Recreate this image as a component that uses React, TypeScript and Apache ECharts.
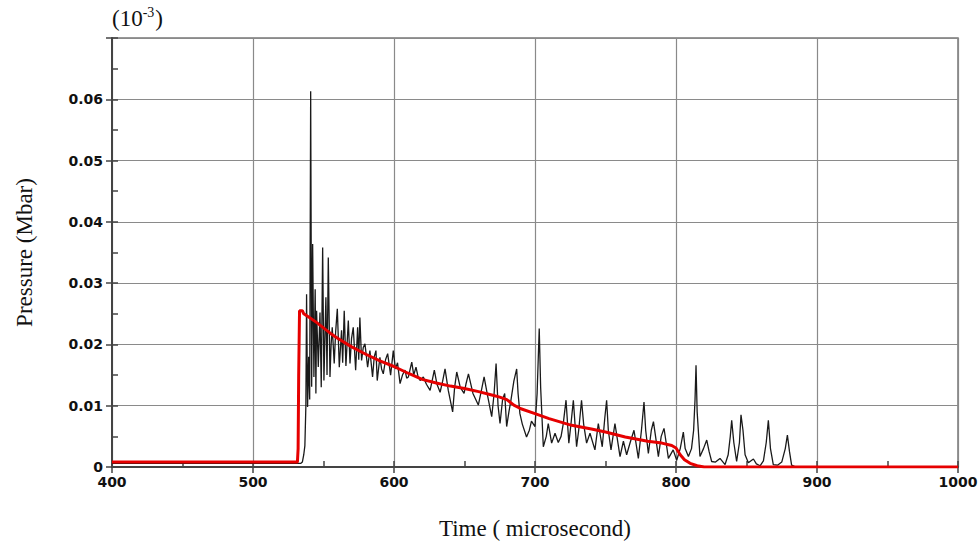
import React, { useEffect, useRef } from "react";
import * as echarts from "echarts";

// Red curve (smooth pressure)
const redTime = [400, 531.5, 532, 532.4, 533, 535, 536, 540, 545, 550, 555, 560, 570, 580, 590, 600, 610, 620, 630, 640, 650, 660, 670, 675, 680, 685, 690, 700, 710, 726, 740, 750, 764, 780, 790, 797, 800, 803, 806, 810, 815, 820, 1000];
const redPressure = [0.0008, 0.0008, 0.003, 0.015, 0.0255, 0.0255, 0.025, 0.0244, 0.0236, 0.0227, 0.0218, 0.021, 0.0196, 0.0184, 0.0173, 0.0164, 0.0153, 0.0143, 0.0137, 0.0132, 0.0128, 0.0123, 0.0117, 0.0114, 0.011, 0.0101, 0.0095, 0.0087, 0.0079, 0.0068, 0.0062, 0.0057, 0.0049, 0.0042, 0.0039, 0.0035, 0.0031, 0.002, 0.0012, 0.0006, 0.0002, 0, 0];

// Black curve (oscillating pressure)
const blackTime = [400, 534, 535, 536, 536.8, 537.5, 538, 538.7, 539.5, 540.2, 540.9, 541.6, 542.3, 543.2, 544.1, 544.6, 545.1, 546.3, 547.5, 548.4, 549.4, 550.3, 551.7, 552.5, 553.4, 554.6, 555.4, 556.2, 557.6, 558.6, 559.8, 561.2, 562.8, 563.6, 564.7, 565.9, 567.6, 568.8, 569.9, 571.1, 572.8, 574.2, 575, 575.8, 577, 578.2, 579.4, 581.3, 582.9, 584.8, 586, 587.2, 588.1, 590, 591.2, 592.4, 594, 595.5, 597.6, 599.5, 601, 602.5, 604.3, 606, 607.8, 609, 610.2, 611.5, 612.6, 614, 615.6, 617, 618.5, 620.8, 623, 625.6, 627, 628.6, 630.5, 632.7, 634.5, 636.2, 638.5, 641.6, 643, 644.5, 647, 649.7, 651, 652.8, 656, 659.8, 662, 663.9, 666.5, 669.3, 671, 672.4, 673.8, 675.2, 677, 678.5, 679.9, 681.5, 683, 685, 687, 688, 689.3, 691, 694, 696, 697.5, 700, 701.5, 703, 704, 705.9, 708, 709.4, 711.8, 714.2, 716.5, 718.5, 720, 722, 724, 725.5, 727.2, 729.5, 731, 733, 734.5, 736.6, 739, 742.5, 744.9, 747.7, 749.5, 750.8, 752, 753.9, 756.7, 760.3, 762.7, 765, 767.5, 770.2, 773.3, 775.5, 777.3, 778.5, 780.4, 782.5, 784, 785.5, 787.5, 789.5, 791.5, 793, 794.6, 798, 800.5, 803, 805.2, 806.5, 808.8, 811, 812.5, 813.5, 814.2, 815, 817, 819.5, 821.8, 823.5, 825.3, 828, 831.2, 834.8, 837, 838.5, 839.5, 841, 843, 845, 846.1, 847.5, 849, 851.3, 854.9, 857, 859.6, 862, 864, 865.5, 867, 869, 872, 875, 877.5, 879, 880.5, 882, 885, 1000];
const blackPressure = [0.0006, 0.0006, 0.0008, 0.002, 0.0035, 0.01, 0.0282, 0.0098, 0.018, 0.011, 0.0613, 0.0131, 0.0364, 0.0147, 0.029, 0.012, 0.0255, 0.0163, 0.0252, 0.013, 0.0358, 0.0141, 0.0277, 0.015, 0.0342, 0.0147, 0.02, 0.0228, 0.0169, 0.022, 0.0258, 0.0163, 0.0223, 0.017, 0.0255, 0.0165, 0.0239, 0.0169, 0.021, 0.0228, 0.0158, 0.0228, 0.0175, 0.0244, 0.0174, 0.0195, 0.0201, 0.0163, 0.019, 0.0147, 0.018, 0.019, 0.0141, 0.0179, 0.016, 0.0152, 0.0175, 0.0185, 0.015, 0.019, 0.016, 0.017, 0.0136, 0.015, 0.0158, 0.0145, 0.0147, 0.016, 0.0171, 0.015, 0.0163, 0.0148, 0.0141, 0.0147, 0.0135, 0.0125, 0.014, 0.0158, 0.0135, 0.0122, 0.014, 0.016, 0.0125, 0.009, 0.013, 0.0155, 0.013, 0.012, 0.0135, 0.0152, 0.012, 0.0101, 0.0125, 0.0147, 0.0115, 0.0082, 0.012, 0.0169, 0.01, 0.0071, 0.011, 0.012, 0.0066, 0.009, 0.011, 0.014, 0.016, 0.012, 0.0087, 0.007, 0.0049, 0.006, 0.0075, 0.0066, 0.012, 0.0226, 0.013, 0.0033, 0.005, 0.0071, 0.0039, 0.0055, 0.004, 0.005, 0.007, 0.0109, 0.0039, 0.007, 0.0109, 0.0033, 0.006, 0.0109, 0.007, 0.0039, 0.0055, 0.0028, 0.0071, 0.0033, 0.008, 0.0109, 0.006, 0.0028, 0.0071, 0.0017, 0.0042, 0.002, 0.004, 0.006, 0.0014, 0.006, 0.0106, 0.006, 0.0022, 0.006, 0.0074, 0.005, 0.0017, 0.005, 0.0063, 0.004, 0.0014, 0.0028, 0.0011, 0.003, 0.0057, 0.003, 0.0017, 0.003, 0.006, 0.011, 0.0166, 0.009, 0.0017, 0.003, 0.0044, 0.0025, 0.0009, 0.0008, 0.0014, 0.0004, 0.002, 0.005, 0.0076, 0.004, 0.0009, 0.004, 0.0085, 0.006, 0.002, 0.0007, 0.0013, 0.0005, 0.0002, 0.001, 0.004, 0.0076, 0.003, 0.0004, 0.0003, 0.0008, 0.003, 0.0052, 0.0025, 0.0003, 0, 0];

const xTicks = [400, 500, 600, 700, 800, 900, 1000];
const yTicks = [0, 0.01, 0.02, 0.03, 0.04, 0.05, 0.06, 0.07];

const SERIF = "'Liberation Serif', 'Times New Roman', serif";
const SANS = "'DejaVu Sans', 'Liberation Sans', Arial, sans-serif";

export default function App() {
  const ref = useRef<HTMLDivElement>(null);
  useEffect(() => {
    if (!ref.current) return;
    const chart = echarts.init(ref.current, null, { renderer: "svg" });
    const black = blackTime.map((t, i) => [t, blackPressure[i]]);
    const red = redTime.map((t, i) => [t, redPressure[i]]);
    const xMin = xTicks[0];
    const xMax = xTicks[xTicks.length - 1];
    const yMin = yTicks[0];
    const yMax = yTicks[yTicks.length - 1];
    const grid = {
      left: 112,
      right: 22,
      top: 38,
      bottom: 79,
      show: true,
      borderColor: "#777",
      borderWidth: 1.5,
      backgroundColor: "#fff",
      containLabel: false,
      outerBoundsMode: "none",
    };
    chart.setOption({
      animation: false,
      backgroundColor: "#fff",
      grid,
      graphic: [
        {
          type: "text",
          left: 112,
          top: 5,
          style: {
            text: "{a|(10}{s|-3}{a|)}",
            rich: {
              a: { fontFamily: SERIF, fontSize: 23, lineHeight: 26, fill: "#111" },
              s: { fontFamily: SERIF, fontSize: 14, lineHeight: 26, fill: "#111", verticalAlign: "top", padding: [0, 1, 10, 0] },
            },
          },
        },
      ],
      xAxis: [
        {
          type: "value",
          min: xMin,
          max: xMax,
          interval: 100,
          name: "Time ( microsecond)",
          nameLocation: "middle",
          nameGap: 50,
          nameTextStyle: { fontFamily: SERIF, fontSize: 23, color: "#111" },
          axisLine: { show: true, onZero: false, lineStyle: { color: "#444", width: 2 } },
          axisTick: { show: true, inside: false, length: 6, lineStyle: { color: "#444", width: 1.5 } },
          axisLabel: {
            fontFamily: SANS,
            fontWeight: "bold",
            fontSize: 14,
            color: "#111",
            margin: 8,
            formatter: (v: number) => String(Math.round(v)),
          },
          splitLine: { show: true, lineStyle: { color: "#8a8a8a", width: 1.2 } },
        },
        {
          type: "value",
          min: xMin,
          max: xMax,
          interval: 50,
          position: "bottom",
          axisLine: { show: false },
          axisTick: { show: true, inside: true, length: 6, lineStyle: { color: "#444", width: 1.5 } },
          axisLabel: { show: false },
          splitLine: { show: false },
        },
      ],
      yAxis: [
        {
          type: "value",
          min: yMin,
          max: yMax,
          interval: 0.01,
          name: "Pressure (Mbar)",
          nameLocation: "middle",
          nameGap: 76,
          nameTextStyle: { fontFamily: SERIF, fontSize: 23, color: "#111" },
          axisLine: { show: true, onZero: false, lineStyle: { color: "#444", width: 2 } },
          axisTick: { show: true, inside: false, length: 6, lineStyle: { color: "#444", width: 1.5 } },
          axisLabel: {
            fontFamily: SANS,
            fontWeight: "bold",
            fontSize: 14,
            color: "#111",
            margin: 9,
            verticalAlign: "middle",
            formatter: (v: number) => {
              const r = Math.round(v * 1000) / 1000;
              if (r === 0) return "0";
              if (r >= 0.069) return "";
              return r.toFixed(2);
            },
          },
          splitLine: { show: true, lineStyle: { color: "#8a8a8a", width: 1.2 } },
        },
        {
          type: "value",
          min: yMin,
          max: yMax,
          interval: 0.005,
          position: "left",
          offset: 0,
          axisLine: { show: false },
          axisTick: { show: true, inside: true, length: 6, lineStyle: { color: "#444", width: 1.5 } },
          axisLabel: { show: false },
          splitLine: { show: false },
        },
      ],
      series: [
        {
          type: "line",
          data: black,
          showSymbol: false,
          symbol: "none",
          xAxisIndex: 0,
          yAxisIndex: 0,
          lineStyle: { color: "#1a1a1a", width: 1.3 },
          z: 2,
        },
        {
          type: "line",
          data: red,
          showSymbol: false,
          symbol: "none",
          xAxisIndex: 0,
          yAxisIndex: 0,
          lineStyle: { color: "#e60000", width: 3 },
          z: 3,
        },
      ],
    });
    return () => chart.dispose();
  }, []);
  return <div ref={ref} style={{ position: "fixed", left: 0, top: 0, width: 980, height: 546 }} />;
}
